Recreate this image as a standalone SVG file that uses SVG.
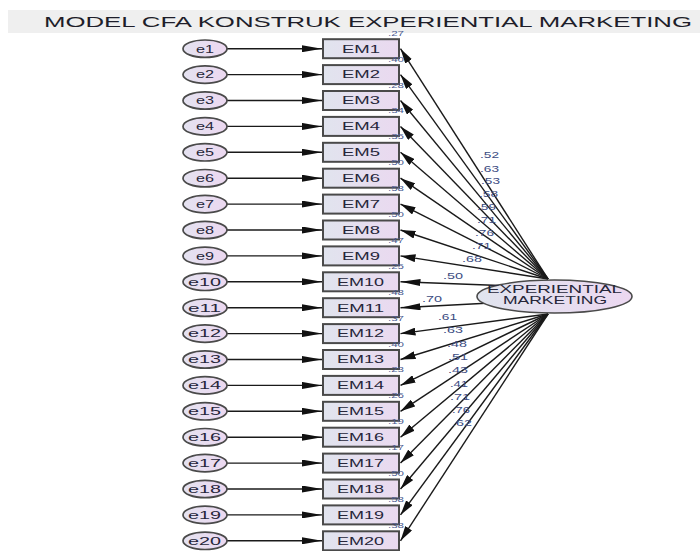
<svg xmlns="http://www.w3.org/2000/svg" width="700" height="551" viewBox="0 0 700 551">
<style>
.t{font-family:"Liberation Sans",Arial,sans-serif;}
.box{fill:url(#gb);stroke:#4a4a4a;stroke-width:2;}
.err{fill:url(#ge);stroke:#4a4a4a;stroke-width:1.7;}
.lat{fill:url(#gl);stroke:#4a4a4a;stroke-width:1.6;}
.nl{font-family:"Liberation Sans",Arial,sans-serif;font-size:10.5px;fill:#26263a;text-anchor:start;}
.r2{font-family:"Liberation Sans",Arial,sans-serif;font-size:8px;fill:#4a5a90;}
.lam{font-family:"Liberation Sans",Arial,sans-serif;font-size:9px;fill:#3c4c82;}
.c{stroke:#1a1a1a;stroke-width:1.4;fill:none;}
.ch{marker-end:url(#ah);}
.cd{marker-end:url(#ad);}
</style>
<defs>
<linearGradient id="gb" x1="0" y1="0" x2="1" y2="0"><stop offset="0" stop-color="#e1e4ee"/><stop offset="1" stop-color="#ead9f0"/></linearGradient>
<linearGradient id="ge" x1="0" y1="0" x2="1" y2="0"><stop offset="0" stop-color="#e4e2f0"/><stop offset="1" stop-color="#ecd8f0"/></linearGradient>
<linearGradient id="gl" x1="0" y1="0" x2="1" y2="0"><stop offset="0" stop-color="#e0e4ee"/><stop offset="1" stop-color="#ecd8f1"/></linearGradient>
<marker id="ah" markerUnits="userSpaceOnUse" markerWidth="20" markerHeight="7" refX="20" refY="3.5" orient="auto"><path d="M0,0 L20,3.5 L0,7 z" fill="#111"/></marker>
<marker id="ad" markerUnits="userSpaceOnUse" markerWidth="15" markerHeight="8" refX="15" refY="4" orient="auto"><path d="M0,0 L15,4 L0,8 z" fill="#111"/></marker>
</defs>
<rect x="8" y="10" width="692" height="23" fill="#efefef"/>
<text class="t" x="44" y="27" font-size="15.5" fill="#1e1e2a" textLength="648" lengthAdjust="spacingAndGlyphs">MODEL CFA KONSTRUK EXPERIENTIAL MARKETING</text>
<g id="connectors">
<path class="c ch" d="M227,48.7 L322,48.7"/>
<path class="c ch" d="M227,74.6 L322,74.6"/>
<path class="c ch" d="M227,100.5 L322,100.5"/>
<path class="c ch" d="M227,126.4 L322,126.4"/>
<path class="c ch" d="M227,152.3 L322,152.3"/>
<path class="c ch" d="M227,178.2 L322,178.2"/>
<path class="c ch" d="M227,204.1 L322,204.1"/>
<path class="c ch" d="M227,230 L322,230"/>
<path class="c ch" d="M227,255.9 L322,255.9"/>
<path class="c ch" d="M227,281.8 L322,281.8"/>
<path class="c ch" d="M227,307.7 L322,307.7"/>
<path class="c ch" d="M227,333.6 L322,333.6"/>
<path class="c ch" d="M227,359.5 L322,359.5"/>
<path class="c ch" d="M227,385.4 L322,385.4"/>
<path class="c ch" d="M227,411.3 L322,411.3"/>
<path class="c ch" d="M227,437.2 L322,437.2"/>
<path class="c ch" d="M227,463.1 L322,463.1"/>
<path class="c ch" d="M227,489 L322,489"/>
<path class="c ch" d="M227,514.9 L322,514.9"/>
<path class="c ch" d="M227,540.8 L322,540.8"/>
<path class="c cd" d="M548,279 L400.5,48.7"/>
<path class="c cd" d="M548,279 L400.5,74.6"/>
<path class="c cd" d="M548,279 L400.5,100.5"/>
<path class="c cd" d="M548,279 L400.5,126.4"/>
<path class="c cd" d="M548,279 L400.5,152.3"/>
<path class="c cd" d="M548,279 L400.5,178.2"/>
<path class="c cd" d="M548,279 L400.5,204.1"/>
<path class="c cd" d="M548,279 L400.5,230"/>
<path class="c cd" d="M548,279 L400.5,255.9"/>
<path class="c ch" d="M500,285.5 L400.5,281.8"/>
<path class="c ch" d="M500,302.5 L400.5,307.7"/>
<path class="c cd" d="M548,314 L400.5,333.6"/>
<path class="c cd" d="M548,314 L400.5,359.5"/>
<path class="c cd" d="M548,314 L400.5,385.4"/>
<path class="c cd" d="M548,314 L400.5,411.3"/>
<path class="c cd" d="M548,314 L400.5,437.2"/>
<path class="c cd" d="M548,314 L400.5,463.1"/>
<path class="c cd" d="M548,314 L400.5,489"/>
<path class="c cd" d="M548,314 L400.5,514.9"/>
<path class="c cd" d="M548,314 L400.5,540.8"/>
</g>
<g id="loadings">
<text class="lam" x="480" y="158" textLength="19" lengthAdjust="spacingAndGlyphs">.52</text>
<text class="lam" x="480" y="172" textLength="19" lengthAdjust="spacingAndGlyphs">.63</text>
<text class="lam" x="481" y="184" textLength="19" lengthAdjust="spacingAndGlyphs">.53</text>
<text class="lam" x="479" y="197" textLength="19" lengthAdjust="spacingAndGlyphs">.58</text>
<text class="lam" x="477" y="210" textLength="19" lengthAdjust="spacingAndGlyphs">.59</text>
<text class="lam" x="477" y="223" textLength="19" lengthAdjust="spacingAndGlyphs">.71</text>
<text class="lam" x="475" y="236" textLength="19" lengthAdjust="spacingAndGlyphs">.76</text>
<text class="lam" x="472" y="249" textLength="19" lengthAdjust="spacingAndGlyphs">.71</text>
<text class="lam" x="462" y="262" textLength="20" lengthAdjust="spacingAndGlyphs">.68</text>
<text class="lam" x="443" y="279" textLength="20" lengthAdjust="spacingAndGlyphs">.50</text>
<text class="lam" x="422" y="302" textLength="20" lengthAdjust="spacingAndGlyphs">.70</text>
<text class="lam" x="438" y="320" textLength="19" lengthAdjust="spacingAndGlyphs">.61</text>
<text class="lam" x="443" y="333" textLength="20" lengthAdjust="spacingAndGlyphs">.63</text>
<text class="lam" x="447" y="347" textLength="20" lengthAdjust="spacingAndGlyphs">.48</text>
<text class="lam" x="448" y="360" textLength="20" lengthAdjust="spacingAndGlyphs">.51</text>
<text class="lam" x="448" y="373" textLength="20" lengthAdjust="spacingAndGlyphs">.43</text>
<text class="lam" x="450" y="387" textLength="18" lengthAdjust="spacingAndGlyphs">.41</text>
<text class="lam" x="450" y="400" textLength="20" lengthAdjust="spacingAndGlyphs">.71</text>
<text class="lam" x="452" y="413" textLength="18" lengthAdjust="spacingAndGlyphs">.76</text>
<text class="lam" x="452" y="426" textLength="20" lengthAdjust="spacingAndGlyphs">.62</text>
</g>
<g id="e1"><ellipse class="err" cx="205" cy="48.7" rx="22" ry="8.7"/><text class="nl" x="196" y="52.5" textLength="18" lengthAdjust="spacingAndGlyphs">e1</text></g>
<g id="e2"><ellipse class="err" cx="205" cy="74.6" rx="22" ry="8.7"/><text class="nl" x="196" y="78.4" textLength="18" lengthAdjust="spacingAndGlyphs">e2</text></g>
<g id="e3"><ellipse class="err" cx="205" cy="100.5" rx="22" ry="8.7"/><text class="nl" x="196" y="104.3" textLength="18" lengthAdjust="spacingAndGlyphs">e3</text></g>
<g id="e4"><ellipse class="err" cx="205" cy="126.4" rx="22" ry="8.7"/><text class="nl" x="196" y="130.2" textLength="18" lengthAdjust="spacingAndGlyphs">e4</text></g>
<g id="e5"><ellipse class="err" cx="205" cy="152.3" rx="22" ry="8.7"/><text class="nl" x="196" y="156.1" textLength="18" lengthAdjust="spacingAndGlyphs">e5</text></g>
<g id="e6"><ellipse class="err" cx="205" cy="178.2" rx="22" ry="8.7"/><text class="nl" x="196" y="182" textLength="18" lengthAdjust="spacingAndGlyphs">e6</text></g>
<g id="e7"><ellipse class="err" cx="205" cy="204.1" rx="22" ry="8.7"/><text class="nl" x="196" y="207.9" textLength="18" lengthAdjust="spacingAndGlyphs">e7</text></g>
<g id="e8"><ellipse class="err" cx="205" cy="230" rx="22" ry="8.7"/><text class="nl" x="196" y="233.8" textLength="18" lengthAdjust="spacingAndGlyphs">e8</text></g>
<g id="e9"><ellipse class="err" cx="205" cy="255.9" rx="22" ry="8.7"/><text class="nl" x="196" y="259.7" textLength="18" lengthAdjust="spacingAndGlyphs">e9</text></g>
<g id="e10"><ellipse class="err" cx="205" cy="281.8" rx="22" ry="8.7"/><text class="nl" x="188" y="285.6" textLength="33" lengthAdjust="spacingAndGlyphs">e10</text></g>
<g id="e11"><ellipse class="err" cx="205" cy="307.7" rx="22" ry="8.7"/><text class="nl" x="188" y="311.5" textLength="33" lengthAdjust="spacingAndGlyphs">e11</text></g>
<g id="e12"><ellipse class="err" cx="205" cy="333.6" rx="22" ry="8.7"/><text class="nl" x="188" y="337.4" textLength="33" lengthAdjust="spacingAndGlyphs">e12</text></g>
<g id="e13"><ellipse class="err" cx="205" cy="359.5" rx="22" ry="8.7"/><text class="nl" x="188" y="363.3" textLength="33" lengthAdjust="spacingAndGlyphs">e13</text></g>
<g id="e14"><ellipse class="err" cx="205" cy="385.4" rx="22" ry="8.7"/><text class="nl" x="188" y="389.2" textLength="33" lengthAdjust="spacingAndGlyphs">e14</text></g>
<g id="e15"><ellipse class="err" cx="205" cy="411.3" rx="22" ry="8.7"/><text class="nl" x="188" y="415.1" textLength="33" lengthAdjust="spacingAndGlyphs">e15</text></g>
<g id="e16"><ellipse class="err" cx="205" cy="437.2" rx="22" ry="8.7"/><text class="nl" x="188" y="441" textLength="33" lengthAdjust="spacingAndGlyphs">e16</text></g>
<g id="e17"><ellipse class="err" cx="205" cy="463.1" rx="22" ry="8.7"/><text class="nl" x="188" y="466.9" textLength="33" lengthAdjust="spacingAndGlyphs">e17</text></g>
<g id="e18"><ellipse class="err" cx="205" cy="489" rx="22" ry="8.7"/><text class="nl" x="188" y="492.8" textLength="33" lengthAdjust="spacingAndGlyphs">e18</text></g>
<g id="e19"><ellipse class="err" cx="205" cy="514.9" rx="22" ry="8.7"/><text class="nl" x="188" y="518.7" textLength="33" lengthAdjust="spacingAndGlyphs">e19</text></g>
<g id="e20"><ellipse class="err" cx="205" cy="540.8" rx="22" ry="8.7"/><text class="nl" x="188" y="544.6" textLength="33" lengthAdjust="spacingAndGlyphs">e20</text></g>
<g id="EM1"><rect class="box" x="323" y="39.2" width="76" height="19"/><text class="nl" x="342" y="52.5" textLength="38" lengthAdjust="spacingAndGlyphs">EM1</text><text class="r2" x="388" y="35.7" textLength="16" lengthAdjust="spacingAndGlyphs">.27</text></g>
<g id="EM2"><rect class="box" x="323" y="65.1" width="76" height="19"/><text class="nl" x="342" y="78.4" textLength="38" lengthAdjust="spacingAndGlyphs">EM2</text><text class="r2" x="388" y="61.6" textLength="16" lengthAdjust="spacingAndGlyphs">.40</text></g>
<g id="EM3"><rect class="box" x="323" y="91" width="76" height="19"/><text class="nl" x="342" y="104.3" textLength="38" lengthAdjust="spacingAndGlyphs">EM3</text><text class="r2" x="388" y="87.5" textLength="16" lengthAdjust="spacingAndGlyphs">.28</text></g>
<g id="EM4"><rect class="box" x="323" y="116.9" width="76" height="19"/><text class="nl" x="342" y="130.2" textLength="38" lengthAdjust="spacingAndGlyphs">EM4</text><text class="r2" x="388" y="113.4" textLength="16" lengthAdjust="spacingAndGlyphs">.34</text></g>
<g id="EM5"><rect class="box" x="323" y="142.8" width="76" height="19"/><text class="nl" x="342" y="156.1" textLength="38" lengthAdjust="spacingAndGlyphs">EM5</text><text class="r2" x="388" y="139.3" textLength="16" lengthAdjust="spacingAndGlyphs">.35</text></g>
<g id="EM6"><rect class="box" x="323" y="168.7" width="76" height="19"/><text class="nl" x="342" y="182" textLength="38" lengthAdjust="spacingAndGlyphs">EM6</text><text class="r2" x="388" y="165.2" textLength="16" lengthAdjust="spacingAndGlyphs">.50</text></g>
<g id="EM7"><rect class="box" x="323" y="194.6" width="76" height="19"/><text class="nl" x="342" y="207.9" textLength="38" lengthAdjust="spacingAndGlyphs">EM7</text><text class="r2" x="388" y="191.1" textLength="16" lengthAdjust="spacingAndGlyphs">.58</text></g>
<g id="EM8"><rect class="box" x="323" y="220.5" width="76" height="19"/><text class="nl" x="342" y="233.8" textLength="38" lengthAdjust="spacingAndGlyphs">EM8</text><text class="r2" x="388" y="217" textLength="16" lengthAdjust="spacingAndGlyphs">.50</text></g>
<g id="EM9"><rect class="box" x="323" y="246.4" width="76" height="19"/><text class="nl" x="342" y="259.7" textLength="38" lengthAdjust="spacingAndGlyphs">EM9</text><text class="r2" x="388" y="242.9" textLength="16" lengthAdjust="spacingAndGlyphs">.47</text></g>
<g id="EM10"><rect class="box" x="323" y="272.3" width="76" height="19"/><text class="nl" x="337" y="285.6" textLength="47" lengthAdjust="spacingAndGlyphs">EM10</text><text class="r2" x="388" y="268.8" textLength="16" lengthAdjust="spacingAndGlyphs">.25</text></g>
<g id="EM11"><rect class="box" x="323" y="298.2" width="76" height="19"/><text class="nl" x="337" y="311.5" textLength="47" lengthAdjust="spacingAndGlyphs">EM11</text><text class="r2" x="388" y="294.7" textLength="16" lengthAdjust="spacingAndGlyphs">.48</text></g>
<g id="EM12"><rect class="box" x="323" y="324.1" width="76" height="19"/><text class="nl" x="337" y="337.4" textLength="47" lengthAdjust="spacingAndGlyphs">EM12</text><text class="r2" x="388" y="320.6" textLength="16" lengthAdjust="spacingAndGlyphs">.37</text></g>
<g id="EM13"><rect class="box" x="323" y="350" width="76" height="19"/><text class="nl" x="337" y="363.3" textLength="47" lengthAdjust="spacingAndGlyphs">EM13</text><text class="r2" x="388" y="346.5" textLength="16" lengthAdjust="spacingAndGlyphs">.40</text></g>
<g id="EM14"><rect class="box" x="323" y="375.9" width="76" height="19"/><text class="nl" x="337" y="389.2" textLength="47" lengthAdjust="spacingAndGlyphs">EM14</text><text class="r2" x="388" y="372.4" textLength="16" lengthAdjust="spacingAndGlyphs">.23</text></g>
<g id="EM15"><rect class="box" x="323" y="401.8" width="76" height="19"/><text class="nl" x="337" y="415.1" textLength="47" lengthAdjust="spacingAndGlyphs">EM15</text><text class="r2" x="388" y="398.3" textLength="16" lengthAdjust="spacingAndGlyphs">.26</text></g>
<g id="EM16"><rect class="box" x="323" y="427.7" width="76" height="19"/><text class="nl" x="337" y="441" textLength="47" lengthAdjust="spacingAndGlyphs">EM16</text><text class="r2" x="388" y="424.2" textLength="16" lengthAdjust="spacingAndGlyphs">.19</text></g>
<g id="EM17"><rect class="box" x="323" y="453.6" width="76" height="19"/><text class="nl" x="337" y="466.9" textLength="47" lengthAdjust="spacingAndGlyphs">EM17</text><text class="r2" x="388" y="450.1" textLength="16" lengthAdjust="spacingAndGlyphs">.17</text></g>
<g id="EM18"><rect class="box" x="323" y="479.5" width="76" height="19"/><text class="nl" x="337" y="492.8" textLength="47" lengthAdjust="spacingAndGlyphs">EM18</text><text class="r2" x="388" y="476" textLength="16" lengthAdjust="spacingAndGlyphs">.50</text></g>
<g id="EM19"><rect class="box" x="323" y="505.4" width="76" height="19"/><text class="nl" x="337" y="518.7" textLength="47" lengthAdjust="spacingAndGlyphs">EM19</text><text class="r2" x="388" y="501.9" textLength="16" lengthAdjust="spacingAndGlyphs">.58</text></g>
<g id="EM20"><rect class="box" x="323" y="531.3" width="76" height="19"/><text class="nl" x="337" y="544.6" textLength="47" lengthAdjust="spacingAndGlyphs">EM20</text><text class="r2" x="388" y="527.8" textLength="16" lengthAdjust="spacingAndGlyphs">.38</text></g>
<g id="EXPERIENTIAL_MARKETING"><ellipse class="lat" cx="554.5" cy="296.5" rx="77.5" ry="16.5"/><text class="nl" x="487" y="292.5" font-size="9.2" fill="#2a2a48" textLength="135" lengthAdjust="spacingAndGlyphs">EXPERIENTIAL</text><text class="nl" x="503" y="304.3" font-size="9.2" fill="#2a2a48" textLength="104" lengthAdjust="spacingAndGlyphs">MARKETING</text></g>
</svg>
